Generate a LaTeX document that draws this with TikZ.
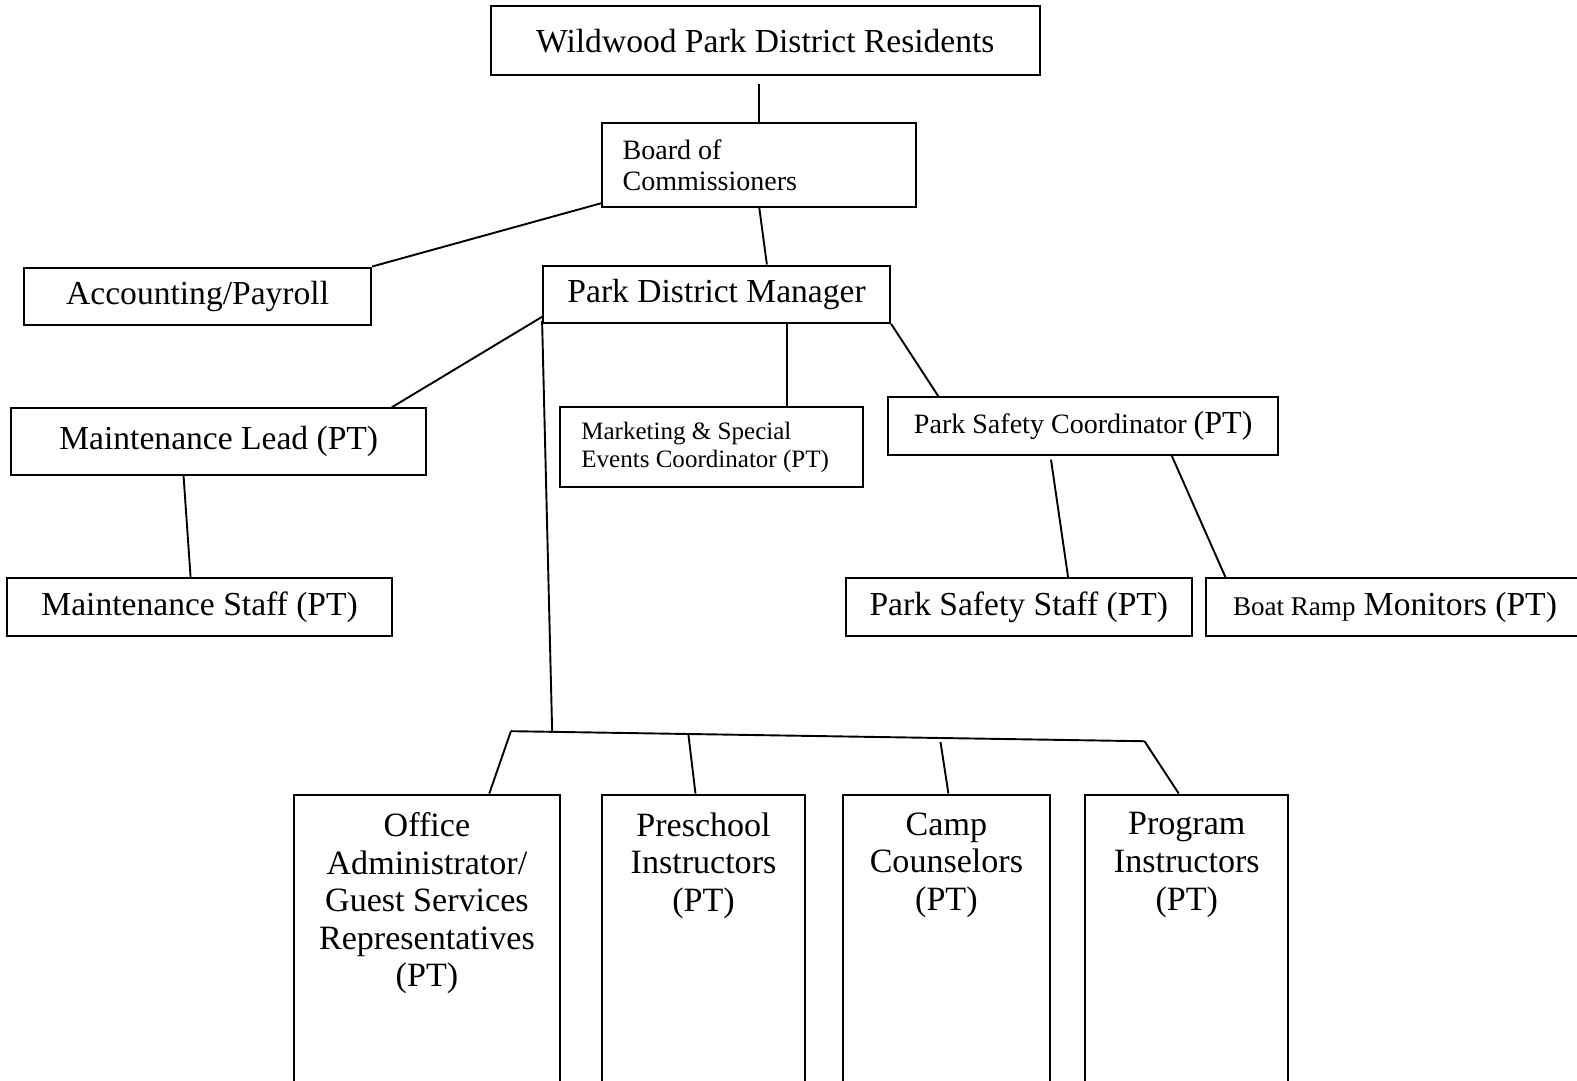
\documentclass[tikz,border=0pt]{standalone}
\usepackage{fontspec}
\setmainfont{Liberation Serif}
\usetikzlibrary{positioning,calc}
\tikzset{
  basic/.style  = {draw, line width=2bp, rectangle, inner sep=0bp, align=center},
  big/.style    = {basic, font=\fontsize{33.5}{38}\selectfont, minimum height=57bp},
  note/.style   = {basic, align=flush left, font=\fontsize{28}{31}\selectfont},
  memo/.style   = {basic, align=flush left, inner xsep=21bp, font=\fontsize{25}{28}\selectfont},
  staff/.style  = {basic, anchor=north, inner ysep=18bp, text depth=300bp,
                   font=\fontsize{34}{37.5}\selectfont}
}
\begin{document}
\begin{tikzpicture}[x=1bp, y=-1bp, line width=1.9bp]
\useasboundingbox (0,0) rectangle (1568,1074);
\clip (0,0) rectangle (1568,1074);

\node[big, minimum width=546bp, minimum height=69bp] (res) at (761,40.5) {Wildwood Park District Residents};
\node[note, inner xsep=20bp, text width=272bp, minimum height=84bp] (brd) at (755,164) {Board of\\Commissioners};
\node[big, minimum width=345bp] (acc) at (196.5,294.5) {Accounting/Payroll};
\node[big, minimum width=345bp] (mgr) at (712.5,292.5) {Park District Manager};

\node[big, minimum width=413bp, minimum height=66bp] (lead) at (217.5,439) {Maintenance Lead (PT)};
\node[big, minimum width=383bp] (mst) at (198.5,603.5) {Maintenance Staff (PT)};
\node[memo, text width=259bp, minimum height=79bp] (mkt) at (707.5,444.5) {Marketing \& Special\\Events Coordinator (PT)};
\node[basic, font=\fontsize{28}{31}\selectfont, minimum width=388bp, minimum height=57bp] (sc) at (1077,423.5)
  {Park Safety Coordinator {\fontsize{32}{36}\selectfont(PT)}};
\node[big, minimum width=344bp] (sst) at (1013,603.5) {Park Safety Staff (PT)};
\node[big, align=flush left, inner xsep=27bp, text width=337bp] (boat) at (1394.5,603.5)
  {{\fontsize{27}{30}\selectfont Boat Ramp} Monitors (PT)};

% part time program staff
\node[staff, minimum width=265bp] (off) at (424.5,789) {Office\\Administrator/\\Guest Services\\Representatives\\(PT)};
\node[staff, minimum width=201bp] (pre) at (699.5,789) {Preschool\\Instructors\\(PT)};
\node[staff, minimum width=206bp] (cmp) at (941,789) {Camp\\Counselors\\(PT)};
\node[staff, minimum width=202bp] (prg) at (1180,789) {Program\\Instructors\\(PT)};

\coordinate (busL) at (508,727);
\coordinate (busR) at (1138,737);
\coordinate (busJ) at (549,727.6);

\draw ([yshift=-8bp]res.south -| brd.north) -- (brd.north);
\draw ([yshift=5bp]brd.south west) -- (acc.north east);
\draw (brd.south) -- ([xshift=50bp]mgr.north);
\draw ([yshift=7bp]mgr.south west) -- ([xshift=172bp]lead.north);
\draw ([xshift=-35bp]lead.south) -- ([xshift=-9bp]mst.north);
\draw ([xshift=70bp]mgr.south) -- ([xshift=75bp]mkt.north);
\draw (mgr.south east) -- ([xshift=-144bp]sc.north);
\draw ([xshift=-32bp,yshift=-4bp]sc.south) -- ([xshift=49bp]sst.north);
\draw ([xshift=88bp]sc.south) -- ([xshift=-176bp]boat.north);

\draw ([yshift=3bp]mgr.south west) -- (busJ);
\draw (busL) -- (busR);
\draw (busL) -- ([xshift=62bp]off.north);
\draw ($(busL)!0.28!(busR)$) -- ([xshift=-8bp]pre.north);
\draw ($(busL)!0.678!(busR)+(0,4)$) -- ([xshift=2bp]cmp.north);
\draw (busR) -- ([xshift=-8bp]prg.north);
\end{tikzpicture}
\end{document}
